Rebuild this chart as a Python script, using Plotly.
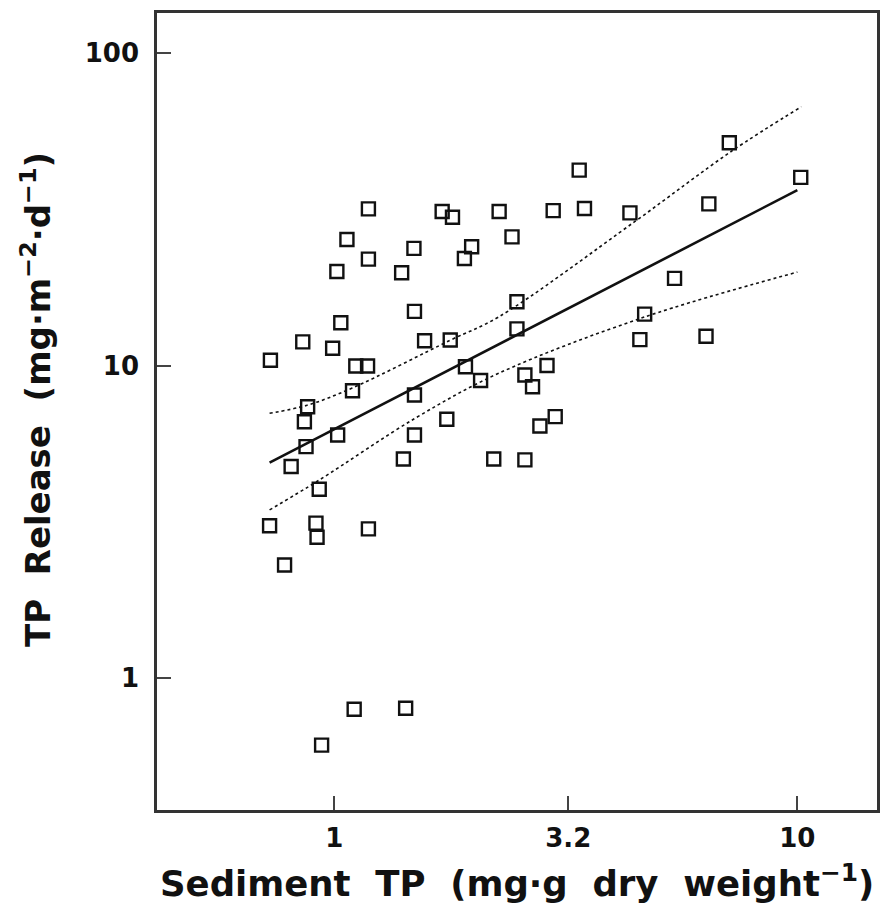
import plotly.graph_objects as go

# ---- data (log-log scatter) ----
sediment_tp = [0.728, 0.855, 0.876, 0.862, 0.869, 0.807, 0.928, 0.725, 0.913, 0.918,
               1.185, 0.781, 0.939, 1.104, 1.426, 1.013, 1.065, 1.185, 1.185, 1.033,
               0.992, 1.113, 1.18, 1.095, 1.017, 1.398, 1.486, 1.49, 1.567, 1.49,
               1.49, 1.41, 1.71, 1.80, 1.91, 1.98, 1.78, 1.92, 2.07, 1.75,
               2.27, 2.42, 2.48, 2.48, 2.58, 2.68, 2.78, 2.88, 3.0, 2.21,
               2.58, 2.97, 3.38, 3.47, 4.35, 4.57, 4.68, 5.43, 6.35, 6.44,
               7.13, 10.17]
tp_release = [10.4, 11.9, 7.38, 6.61, 5.5, 4.75, 4.02, 3.07, 3.13, 2.82,
              3.0, 2.3, 0.61, 0.794, 0.80, 20.0, 25.3, 31.7, 21.9, 13.7,
              11.35, 9.96, 9.96, 8.3, 5.99, 19.8, 23.7, 14.9, 12.0, 8.05,
              5.99, 5.02, 31.1, 29.8, 22.0, 24.0, 12.07, 9.91, 8.95, 6.73,
              31.1, 25.8, 16.0, 13.1, 9.32, 8.55, 6.4, 10.0, 6.86, 5.02,
              4.99, 31.3, 42.2, 31.8, 30.8, 12.1, 14.6, 19.0, 12.4, 32.9,
              51.6, 40.0]

fit_x = [0.725, 10.0]
fit_y = [4.89, 36.4]

upper_x = [0.725, 0.876, 1.093, 1.785, 2.264, 4.46, 7.18, 10.2]
upper_y = [7.03, 7.47, 8.47, 12.07, 14.3, 28.9, 48.3, 67.3]

lower_x = [0.725, 0.928, 1.5, 2.264, 4.68, 10.0]
lower_y = [3.45, 4.30, 6.8, 9.44, 14.3, 19.9]

x_ticks = [1, 3.2, 10]
x_tick_labels = ["1", "3.2", "10"]
y_ticks = [1, 10, 100]
y_tick_labels = ["1", "10", "100"]

SP = "\u00a0\u00a0"
x_title = SP.join(["Sediment", "TP", "(mg\u00b7g", "dry", "weight<sup>\u22121</sup>)"])
y_title = SP.join(["TP", "Release", "(mg\u00b7m<sup>\u22122</sup>\u00b7d<sup>\u22121</sup>)"])

INK = "#111111"
FONT = "DejaVu Sans"

fig = go.Figure()

fig.add_trace(go.Scatter(x=upper_x, y=upper_y, mode="lines",
                         line=dict(color=INK, width=1.6, dash="dot", shape="spline"),
                         showlegend=False, hoverinfo="skip"))
fig.add_trace(go.Scatter(x=lower_x, y=lower_y, mode="lines",
                         line=dict(color=INK, width=1.6, dash="dot", shape="spline"),
                         showlegend=False, hoverinfo="skip"))
fig.add_trace(go.Scatter(x=fit_x, y=fit_y, mode="lines",
                         line=dict(color=INK, width=2.6),
                         showlegend=False, hoverinfo="skip"))
fig.add_trace(go.Scatter(x=sediment_tp, y=tp_release, mode="markers",
                         marker=dict(symbol="square-open", size=13,
                                     color=INK, line=dict(color=INK, width=2.4)),
                         showlegend=False))

axis_common = dict(type="log", showgrid=False, zeroline=False, showline=True,
                   linecolor="#333333", linewidth=2.5, mirror=True,
                   ticks="inside", tickcolor="#444444", tickwidth=1.5, ticklen=14,
                   tickfont=dict(family=FONT, size=26, color=INK, weight="bold"))

fig.update_xaxes(range=[-0.3828, 1.172], tickvals=x_ticks, ticktext=x_tick_labels,
                 ticklabelstandoff=3, **axis_common)
fig.update_yaxes(range=[-0.4224, 2.128], tickvals=y_ticks, ticktext=y_tick_labels,
                 ticklabelstandoff=10, **axis_common)

fig.update_layout(
    width=884, height=919,
    margin=dict(l=157, r=4, t=13, b=109),
    paper_bgcolor="white", plot_bgcolor="white",
    annotations=[
        dict(text=x_title, xref="paper", yref="paper", x=0.5, y=-0.0885,
             xanchor="center", yanchor="middle", showarrow=False,
             font=dict(family=FONT, size=35.5, color=INK, weight="bold")),
        dict(text=y_title, xref="paper", yref="paper", x=-0.168, y=0.5144,
             xanchor="center", yanchor="middle", showarrow=False, textangle=-90,
             font=dict(family=FONT, size=34, color=INK, weight="bold")),
    ],
)

fig.write_html("out.html",
               config={"displayModeBar": False},
               post_script="document.body.style.margin='0px';"
                           "document.body.style.overflow='hidden';")
